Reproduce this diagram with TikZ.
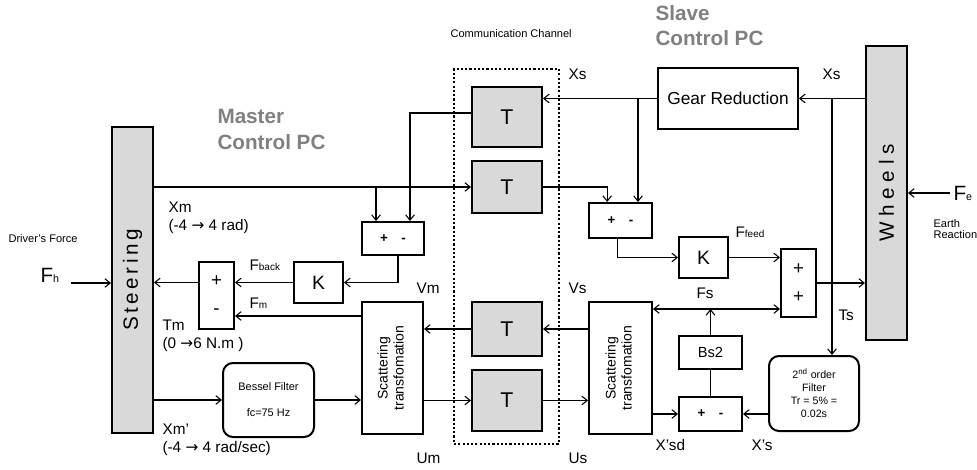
\documentclass[tikz,border=0pt]{standalone}
\usepackage{fontspec}
\setmainfont{Liberation Sans}
\newfontfamily\arrfont{DejaVu Sans}
\usepackage{tikz}
\usetikzlibrary{arrows.meta}
\definecolor{boxgray}{RGB}{217,217,217}
\definecolor{pcgray}{RGB}{128,128,128}
\newcommand{\lowtxt}[1]{{\fontsize{7.5}{8}\selectfont #1}}
\newcommand{\rarr}{{\arrfont →}}

\begin{document}
\begin{tikzpicture}[x=0.75pt, y=-0.75pt,
    >={Straight Barb[length=4pt,width=6.5pt]},
    line width=0.8pt,
    blk/.style={
        draw, line width=1.5pt, fill=#1,
        inner sep=0pt, align=center
    },
    blk/.default=white,
    rblk/.style={blk, rounded corners=7.5pt},
    dly/.style={blk=boxgray, minimum width=52.5pt,
        font=\fontsize{16}{19}\selectfont},
    sgn/.style={blk, font=\bfseries\fontsize{10}{12}\selectfont},
    lbl/.style={inner sep=0pt, font=\fontsize{11.5}{13.5}\selectfont},
    tiny/.style={inner sep=0pt, align=left, font=\fontsize{8.3}{8.5}\selectfont},
    hdr/.style={inner sep=0pt, align=left, text=pcgray,
        font=\bfseries\fontsize{15.5}{19}\selectfont}
]
\useasboundingbox (0,0) rectangle (977,470);

% =========================
% HEADINGS
% =========================
\node[hdr, anchor=north west] (MPC) at (217,109) {Master\\Control PC};
\node[hdr, anchor=north west] (SPC) at (655,5) {Slave\\Control PC};
\node[tiny, anchor=base west] (CCH) at (450,38) {Communication Channel};

% =========================
% STEERING / WHEELS
% =========================
\node[blk=boxgray, minimum width=30.75pt, minimum height=229.5pt,
      font=\fontsize{15.5}{19}\selectfont] (STEER) at (132.5,280)
 {\rotatebox{90}{\spaceskip=0.17em S t e e r i n g}};
\node[blk=boxgray, minimum width=30.75pt, minimum height=220.5pt,
      font=\fontsize{15.5}{19}\selectfont] (WHEEL) at (886.5,193)
 {\rotatebox{90}{W h e e l s}};

% =========================
% COMMUNICATION CHANNEL
% =========================
\node[draw, line width=1.6pt, dash pattern=on 1.6pt off 1.6pt,
      minimum width=78.75pt, minimum height=281.25pt] (CHAN) at (506.5,256.5) {};

\node[dly, minimum height=45pt] (T1) at (507,117) {T};
\node[dly, minimum height=39pt] (T2) at (507,187) {T};
\node[dly, minimum height=40.5pt] (T3) at (507,329) {T};
\node[dly, minimum height=45.75pt] (T4) at (507,400.5) {T};

% =========================
% MASTER SIDE
% =========================
\node[sgn, minimum width=46.5pt, minimum height=24.75pt] (MDIF) at (393,238.5) {+\quad-};
\node[blk, minimum width=36.75pt, minimum height=30.75pt,
      font=\fontsize{14.5}{17}\selectfont] (MK) at (318.5,282.5) {K};
\node[blk, minimum width=26.25pt, minimum height=50.25pt,
      font=\fontsize{14}{21}\selectfont] (MSUM) at (216.5,295.5) {+\\-};
\node[rblk, minimum width=68.25pt, minimum height=55.5pt,
      font=\fontsize{8.2}{19.5}\selectfont] (BES) at (268.5,400) {Bessel Filter\\fc=75 Hz};
\node[blk, minimum width=45.75pt, minimum height=99pt,
      font=\fontsize{10.5}{12}\selectfont] (SCM) at (392.5,368)
 {\rotatebox{90}{\begin{tabular}{@{}c@{}}Scattering\\transfomation\end{tabular}}};

% =========================
% SLAVE SIDE
% =========================
\node[blk, minimum width=105pt, minimum height=45.75pt,
      font=\fontsize{13}{15}\selectfont] (GEAR) at (728,98.5) {Gear Reduction};
\node[sgn, minimum width=47.25pt, minimum height=26.25pt] (SDIF) at (620.5,220.5) {+\quad-};
\node[blk, minimum width=36.75pt, minimum height=30.75pt,
      font=\fontsize{14.5}{17}\selectfont] (SK) at (703.5,257.5) {K};
\node[blk, minimum width=26.25pt, minimum height=51pt,
      font=\fontsize{14}{21}\selectfont] (SSUM) at (798.5,283) {+\\+};
\node[blk, minimum width=47.25pt, minimum height=99pt,
      font=\fontsize{10.5}{12}\selectfont] (SCS) at (620.5,368)
 {\rotatebox{90}{\begin{tabular}{@{}c@{}}Scattering\\transfomation\end{tabular}}};
\node[blk, minimum width=47.25pt, minimum height=24.75pt,
      font=\fontsize{11}{13}\selectfont] (BS2) at (710.5,352.5) {Bs2};
\node[sgn, minimum width=47.25pt, minimum height=25.5pt] (VDIF) at (710.5,414) {+\quad-};
\node[rblk, minimum width=67.5pt, minimum height=56.25pt,
      font=\fontsize{8}{9.75}\selectfont] (FILT) at (814,393.5)
 {2\textsuperscript{nd} order\\Filter\\Tr = 5\% =\\0.02s};

% =========================
% LABELS
% =========================
\node[tiny, anchor=base west] (DRV) at (8,243) {Driver’s Force};
\node[inner sep=0pt, anchor=base west, font=\fontsize{15.5}{17}\selectfont] (FH) at (40,282)
 {F{\fontsize{8}{9}\selectfont h}};
\node[inner sep=0pt, anchor=base west, font=\fontsize{15.5}{17}\selectfont] (FE) at (953,201)
 {F{\fontsize{8}{9}\selectfont e}};
\node[tiny, anchor=north west] (EAR) at (933,219) {Earth\\Reaction};

\node[lbl, anchor=north west, align=left] (XML) at (168,201) {Xm\\(-4 \rarr{} 4 rad)};
\node[lbl, anchor=north west, align=left] (TML) at (162,319) {Tm\\(0 \rarr6 N.m )};
\node[lbl, anchor=north west, align=left] (XMD) at (162,423) {Xm’\\(-4 \rarr{} 4 rad/sec)};
\node[lbl, anchor=base west] (FBK) at (249,270) {F\lowtxt{back}};
\node[lbl, anchor=base west] (FML) at (249,308) {F\lowtxt{m}};
\node[lbl, anchor=base west] (VML) at (416,293) {Vm};
\node[lbl, anchor=base west] (UML) at (416,463) {Um};
\node[lbl, anchor=base west] (VSL) at (568,293) {Vs};
\node[lbl, anchor=base west] (USL) at (568,463) {Us};
\node[lbl, anchor=base west] (XSA) at (568,80) {Xs};
\node[lbl, anchor=base west] (XSB) at (822,80) {Xs};
\node[lbl, anchor=base west] (FFD) at (735,238) {F\lowtxt{feed}};
\node[lbl, anchor=base west] (FSL) at (696,298) {Fs};
\node[lbl, anchor=base west] (TSL) at (838,320) {Ts};
\node[lbl, anchor=base west] (XSD) at (655,450) {X’sd};
\node[lbl, anchor=base west] (XSP) at (751,450) {X’s};

% =========================
% HELPER POINTS
% =========================
\coordinate (FHIN) at (71,283);
\coordinate (FEIN) at (950,193);
\coordinate (XMJ) at (376,0 |- T2.west);
\coordinate (GSJ) at (638,0 |- GEAR.west);
\coordinate (XSJ) at (832,0 |- GEAR.east);
\coordinate (FSJ) at (BS2.north |- 0,309);
\coordinate (FMY) at (0,316);

% =========================
% MASTER CONNECTIONS
% =========================
\draw[->] (FHIN) -- (FHIN -| STEER.west);
\draw[->] (STEER.east |- T2.west) -- (T2.west);
\draw[->] (XMJ) -- (XMJ |- MDIF.north);
\draw[->] ([yshift=3pt]T1.west) -| (410,0 |- MDIF.north);
\draw[->] ([xshift=3.75pt]MDIF.south) |- (MK.east);
\draw[->] (MK.west) -- (MK.west -| MSUM.east);
\draw[->] (SCM.west |- FMY) -- (MSUM.east |- FMY);
\draw[->] (MSUM.west |- MK.west) -- (STEER.east |- MK.west);
\draw[->] (STEER.east |- BES.west) -- (BES.west);
\draw[->] (BES.east) -- (BES.east -| SCM.west);
\draw[->] (SCM.east |- T4.west) -- (T4.west);
\draw[->] (T3.west) -- (T3.west -| SCM.east);

% =========================
% SLAVE CONNECTIONS
% =========================
\draw[->] (T4.east) -- (T4.east -| SCS.west);
\draw[->] (SCS.west |- T3.east) -- (T3.east);
\draw[->] (WHEEL.west |- GEAR.east) -- (GEAR.east);
\draw[->] (XSJ) -- (XSJ |- FILT.north);
\draw[->] (GEAR.west) -- (GEAR.west -| T1.east);
\draw[->] (GSJ) -- (GSJ |- SDIF.north);
\draw[->] (T2.east) -| ([xshift=-10pt]SDIF.north);
\draw[->] ([xshift=-2pt]SDIF.south) |- (SK.west);
\draw[->] (SK.east) -- (SK.east -| SSUM.west);
\draw[->] (BS2.north) -- (FSJ);
\draw[<->] (SCS.east |- FSJ) -- (SSUM.west |- FSJ);
\draw (VDIF.north) -- (BS2.south);
\draw[->] (SCS.east |- VDIF.west) -- (VDIF.west);
\draw[->] (FILT.west |- VDIF.east) -- (VDIF.east);
\draw[->] (SSUM.east) -- (SSUM.east -| WHEEL.west);
\draw[->] (FEIN) -- (FEIN -| WHEEL.east);

\end{tikzpicture}
\end{document}
